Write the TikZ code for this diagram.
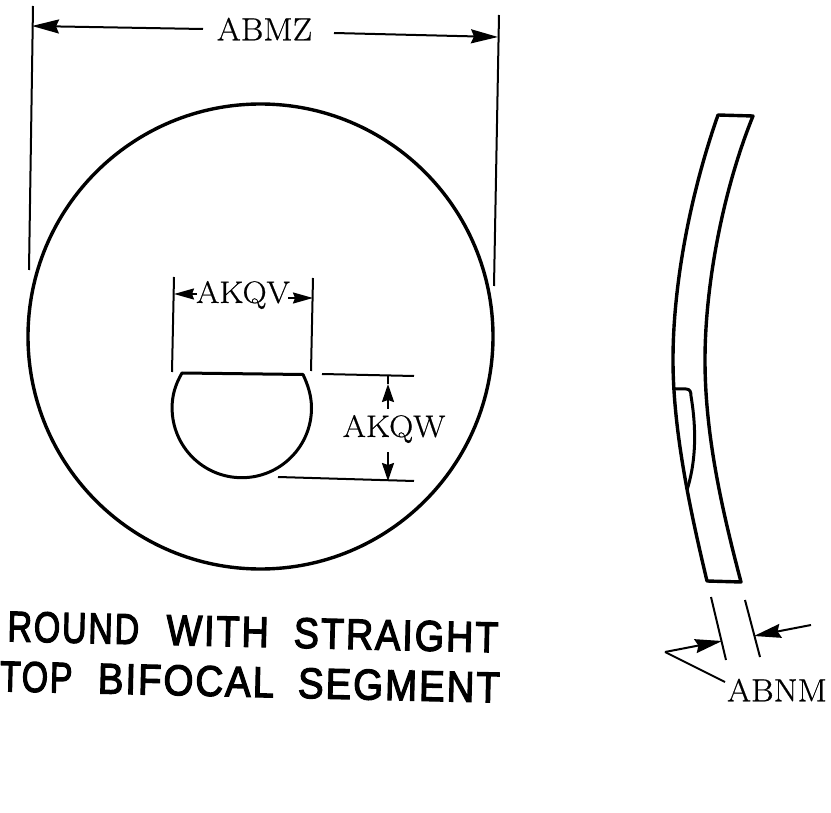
\documentclass[tikz,border=0pt]{standalone}
\usepackage{fontspec}
\usetikzlibrary{arrows.meta}
\newfontfamily\capfont[FakeBold=3,LetterSpace=5]{Liberation Sans}
\newfontfamily\lblfont[FakeBold=0.6,FakeStretch=1.08]{Latin Modern Roman}
\tikzset{
  x=1pt,y=-1pt,
  heavy/.style={line width=3.4pt,line join=round,line cap=round},
  seg/.style={line width=3pt,line join=round},
  dim/.style={line width=2pt},
  tip/.style={dim,-{Stealth[length=27pt,width=14pt,inset=3pt]}},
  smalltip/.style={dim,-{Stealth[length=20pt,width=11pt,inset=2pt]}},
  vtip/.style={dim,-{Stealth[length=18pt,width=12pt,inset=2pt]}},
  lbl/.style={inner sep=0pt,font=\lblfont\fontsize{32}{32}\selectfont},
  smalllbl/.style={inner sep=0pt,font=\lblfont\fontsize{31}{31}\selectfont},
  captxt/.style={inner sep=0pt,rotate=-1.3,font=\capfont\fontsize{40}{40}\selectfont},
}
\begin{document}
\begin{tikzpicture}
\useasboundingbox (0,0) rectangle (831,813);
% front view
\node[draw,heavy,circle,minimum size=465pt,inner sep=0pt] (lens) at (260.5,336.5) {};
\draw[seg] (182,373) -- (303,374.5) .. controls (308,385) and (311.5,396) .. (311.5,408)
  arc[start angle=0,end angle=180,radius=69.7] .. controls (172,396) and (175,385) .. (182,373) -- cycle;
% ABMZ
\coordinate (mzLtop) at (33,6); \coordinate (mzLbot) at (29,270);
\coordinate (mzRtop) at (499,15); \coordinate (mzRbot) at (494,286);
\coordinate (mzLtip) at (32,26); \coordinate (mzLtail) at (203,29);
\coordinate (mzRtip) at (498,37); \coordinate (mzRtail) at (334,33);
\draw[dim] (mzLtop) -- (mzLbot);
\draw[dim] (mzRtop) -- (mzRbot);
\node[lbl] (abmz) at (264.5,29) {ABMZ};
\draw[tip] (mzLtail) -- (mzLtip);
\draw[tip] (mzRtail) -- (mzRtip);
% AKQV
\coordinate (qvLtop) at (174,277); \coordinate (qvLbot) at (172,372);
\coordinate (qvRtop) at (313,278); \coordinate (qvRbot) at (311,371);
\coordinate (qvLtip) at (174,294); \coordinate (qvLtail) at (197,294);
\coordinate (qvRtip) at (313,298); \coordinate (qvRtail) at (288,298);
\draw[dim] (qvLtop) -- (qvLbot);
\draw[dim] (qvRtop) -- (qvRbot);
\node[smalllbl] (akqv) at (243,295) {AKQV};
\draw[smalltip] (qvLtail) -- (qvLtip);
\draw[smalltip] (qvRtail) -- (qvRtip);
% AKQW
\coordinate (qwT1) at (322,374); \coordinate (qwT2) at (414,376);
\coordinate (qwB1) at (278,477); \coordinate (qwB2) at (414,481);
\coordinate (qwTend) at (388,376); \coordinate (qwTtip) at (388,384); \coordinate (qwTtail) at (388,409);
\coordinate (qwBtip) at (388,481); \coordinate (qwBtail) at (388,452);
\draw[dim] (qwT1) -- (qwT2);
\draw[dim] (qwB1) -- (qwB2);
\node[smalllbl] (akqw) at (394,429) {AKQW};
\draw[dim] (qwTend) -- (qwTtip);
\draw[vtip] (qwTtail) -- (qwTtip);
\draw[vtip] (qwBtail) -- (qwBtip);
% side view
\draw[heavy] (718,115) .. controls (690,195) and (673,285) .. (673,360)
  .. controls (673,430) and (690,510) .. (707,581)
  -- (741,582)
  .. controls (722,510) and (705,435) .. (705,360)
  .. controls (705,285) and (723,190) .. (753,116)
  -- cycle;
\draw[seg] (674,389) -- (686,389) .. controls (690,389) and (691,392) .. (691,396)
  .. controls (695,420) and (698,455) .. (687,490);
% ABNM
\coordinate (nmLtop) at (711,597); \coordinate (nmLbot) at (726,660);
\coordinate (nmRtop) at (745,600); \coordinate (nmRbot) at (760,657);
\coordinate (nmV) at (665,652);
\coordinate (nmLtip) at (722,641); \coordinate (nmRtip) at (754,636);
\coordinate (nmRtail) at (811,625); \coordinate (nmLead) at (725,682);
\draw[dim] (nmLtop) -- (nmLbot);
\draw[dim] (nmRtop) -- (nmRbot);
\draw[tip] (nmV) -- (nmLtip);
\draw[tip] (nmRtail) -- (nmRtip);
\draw[dim] (nmV) -- (nmLead);
\node[lbl] (abnm) at (777,690) {ABNM};
% caption
\node[captxt] (capa) at (253,632) {\resizebox{491pt}{30pt}{\scalebox{.9}[1]{ROUND}\hspace{.72em}WITH\hspace{.66em}STRAIGHT}};
\node[captxt] (capb) at (250,682) {\resizebox{500pt}{30pt}{\scalebox{.88}[1]{TOP}\hspace{.66em}BIFOCAL\hspace{.62em}SEGMENT}};
\end{tikzpicture}
\end{document}
